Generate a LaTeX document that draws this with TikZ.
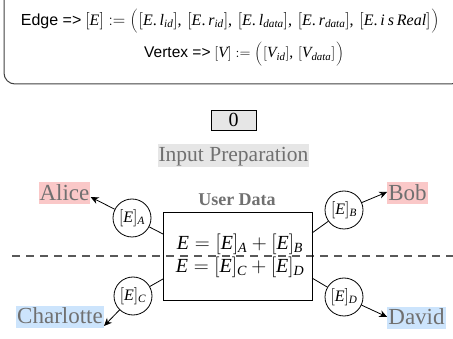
\documentclass[tikz,border=0pt]{standalone}
\usepackage{fontspec}
\setmainfont{Liberation Serif}
\setsansfont{Liberation Sans}
% Times-like letters, digits and brackets in formulas
\DeclareSymbolFont{letters}{\encodingdefault}{\rmdefault}{m}{it}
\DeclareSymbolFont{operators}{\encodingdefault}{\rmdefault}{m}{n}
\mathcode`\.="602E
\mathcode`\,="602C
% round brackets taken from the extension font, so that they can grow
\DeclareMathDelimiter{\tplopen}{\mathopen}{largesymbols}{"00}{largesymbols}{"00}
\DeclareMathDelimiter{\tplclose}{\mathclose}{largesymbols}{"01}{largesymbols}{"01}
\usetikzlibrary{arrows.meta}

\newcommand{\tuplestrut}{\vcenter{\hbox{\rule{0pt}{22pt}}}}
\newcommand{\tupleopen}{\mathopen{\left\tplopen\tuplestrut\right.}}
\newcommand{\tupleclose}{\mathclose{\left.\tuplestrut\right\tplclose}}

\definecolor{softred}{RGB}{250,200,200}
\definecolor{softblue}{RGB}{204,228,252}
\definecolor{labelgray}{RGB}{112,112,112}
\definecolor{panelgray}{RGB}{230,230,230}

\tikzset{
  party/.style={text=labelgray, font=\fontsize{23}{23}\selectfont, inner xsep=1pt, inner ysep=2pt, text height=16pt, text depth=2pt},
  share/.style={draw, circle, minimum size=38pt, inner sep=0pt, font=\fontsize{16}{16}\selectfont, line width=0.8pt},
  link/.style={line width=0.8pt},
  sendto/.style={line width=0.8pt, -{Stealth[length=8pt,width=7pt]}},
  defline/.style={inner sep=0pt},
}

\begin{document}
\begin{tikzpicture}[x=1pt, y=-1pt]
\useasboundingbox (0,0) rectangle (453,339);

% definitions panel
\draw[line width=1pt, draw=black!75, rounded corners=11pt] (4,-12) rectangle (462,84);
\node[defline, font=\fontsize{16}{18}\selectfont] (edgedef) at (230,21) {\textsf{Edge =>} $[E] := \tupleopen[E.l_{id}],\,[E.r_{id}],\,[E.l_{data}],\,[E.r_{data}],\,[E.i\,s\,Real]\tupleclose$};
\node[defline, font=\fontsize{15.5}{18}\selectfont] (vertdef) at (244,54) {\textsf{Vertex =>} $[V] := \tupleopen[V_{id}],\,[V_{data}]\tupleclose$};

% stage header
\node[draw, fill=panelgray, line width=0.8pt, minimum width=45pt, minimum height=20pt, inner sep=0pt, font=\fontsize{20}{20}\selectfont] (stage) at (233.5,120) {0};
\node[fill=panelgray, text=labelgray, font=\fontsize{21.5}{22}\selectfont, inner xsep=1pt, inner ysep=2pt, text height=15pt, text depth=4pt] (stagename) at (233.5,156) {Input Preparation};

% party split
\draw[line width=1.2pt, draw=black!65, dash pattern=on 8pt off 6pt] (12,256) -- (453,256);

% user data box
\node[draw, line width=0.8pt, minimum width=149pt, minimum height=88pt, inner sep=0pt] (data) at (237.5,256) {};
\node[text=labelgray, font=\bfseries\fontsize{18}{18}\selectfont] (datatitle) at (237,200) {User Data};
\node[font=\fontsize{20}{20}\selectfont] (sumab) at (240,244) {$E = [E]_A + [E]_B$};
\node[font=\fontsize{20}{20}\selectfont] (sumcd) at (240,267) {$E = [E]_C + [E]_D$};

% parties
\node[party, fill=softred] (alice) at (64.5,193.5) {Alice};
\node[party, fill=softred] (bob) at (407.5,193.5) {Bob};
\node[party, fill=softblue] (charlotte) at (60,317) {Charlotte};
\node[party, fill=softblue] (david) at (416.5,318) {David};

% shares
\node[share] (sa) at (132,218) {$[E]_A$};
\node[share] (sb) at (344,210) {$[E]_B$};
\node[share] (sc) at (133,296) {$[E]_C$};
\node[share] (sd) at (344,297) {$[E]_D$};

\coordinate (outa) at (163,234);
\coordinate (outb) at (312,233);
\coordinate (outc) at (163,279);
\coordinate (outd) at (312,278);

\draw[link] (outa) -- (sa);
\draw[link] (outb) -- (sb);
\draw[link] (outc) -- (sc);
\draw[link] (outd) -- (sd);

\draw[sendto] (sa) -- (alice.east |- 0,197);
\draw[sendto] (sb) -- (bob.west |- 0,192);
\draw[sendto] (sc) -- (charlotte.east |- 0,326);
\draw[sendto] (sd) -- (david.west |- 0,317);
\end{tikzpicture}
\end{document}
